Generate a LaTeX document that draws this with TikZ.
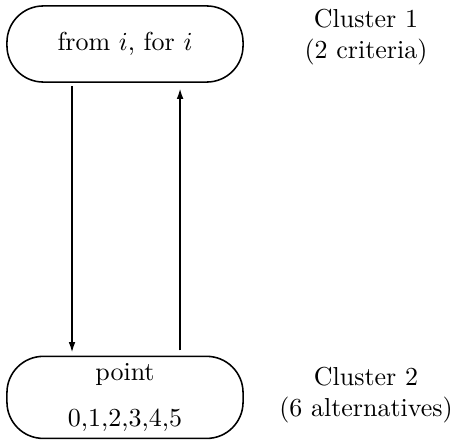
\documentclass[tikz,border=0pt]{standalone}
\usepackage{amsmath}
\usetikzlibrary{arrows.meta,positioning}

\begin{document}
\begin{tikzpicture}[x=0.385pt,y=-0.385pt,>={Latex[length=4pt,width=2.6pt]}]
  \tikzstyle{cluster}=[draw,semithick,rounded corners=14pt,align=center,minimum width=90.9pt,inner sep=0pt]
  \tikzstyle{note}=[align=center]
  \useasboundingbox (0,0) rectangle (453,447);
  \node[cluster,minimum height=29.3pt] (crit) at (125,44) {from $i$, for $i$};
  \node[cluster,minimum height=31.6pt,below=105pt of crit] (alt) {point\\[6pt]0,1,2,3,4,5};
  \node[note] (c1) at (366,37) {Cluster 1\\(2 criteria)};
  \node[note] (c2) at (366,395) {Cluster 2\\(6 alternatives)};
  \draw[->,semithick,shorten <=1.2pt,shorten >=1.2pt] ([xshift=-20.4pt]crit.south) -- ([xshift=-20.4pt]alt.north);
  \draw[->,semithick,shorten <=2pt,shorten >=2.2pt] ([xshift=21.2pt]alt.north) -- ([xshift=21.2pt]crit.south);
\end{tikzpicture}
\end{document}
